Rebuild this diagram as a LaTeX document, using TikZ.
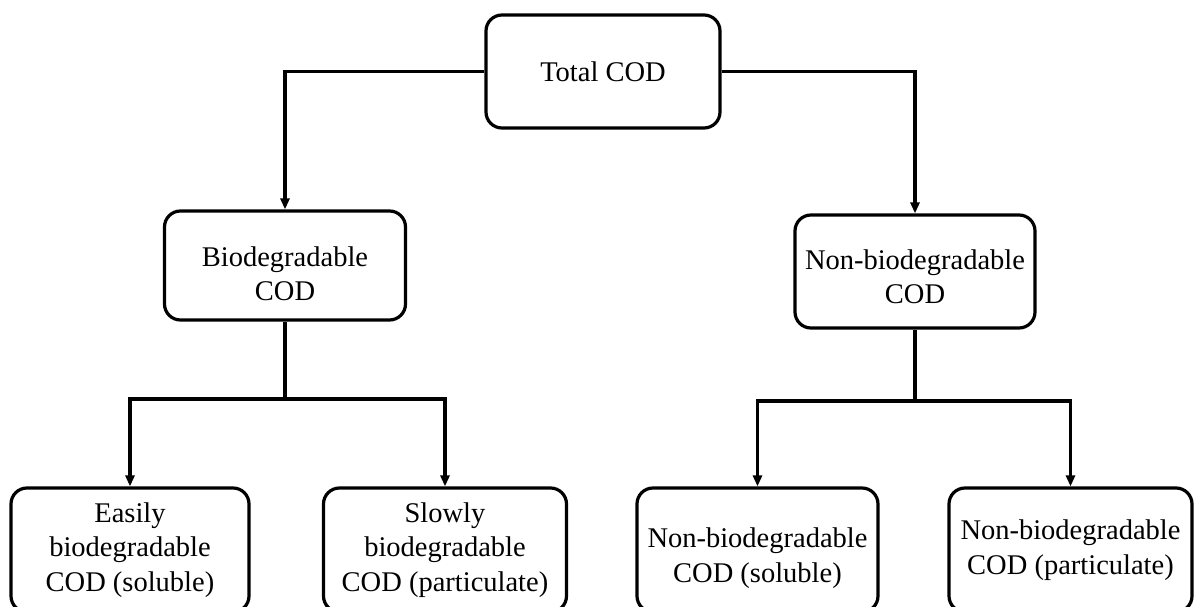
\documentclass[tikz,border=0pt]{standalone}
\usepackage{fontspec}
\setmainfont{Liberation Serif}
\usetikzlibrary{arrows.meta}
\begin{document}
\begin{tikzpicture}[x=1pt,y=-1pt,
 box/.style={draw, line width=3.2pt, rounded corners=16pt, align=center, font=\fontsize{28.5}{34.5}\selectfont, inner sep=0pt},
 conn/.style={line width=3.2pt, -{Triangle[length=11pt,width=9pt]}},
 link/.style={line width=3.2pt}]
\useasboundingbox (0,0) rectangle (1195,607);
\node[box, minimum width=234pt, minimum height=113pt] (T) at (603,71.5) {Total COD};
\node[box, minimum width=241pt, minimum height=109pt] (B) at (285,265.5) {\rule{0pt}{36pt}Biodegradable\\COD};
\node[box, minimum width=240pt, minimum height=113pt] (NB) at (915,271.5) {\rule{0pt}{30pt}Non-biodegradable\\COD};
\node[box, minimum width=238pt, minimum height=124pt] (E) at (130,550) {Easily\\biodegradable\\COD (soluble)};
\node[box, minimum width=243pt, minimum height=124pt] (S) at (445,550) {Slowly\\biodegradable\\COD (particulate)};
\node[box, minimum width=241pt, minimum height=124pt] (NBS) at (757.5,550) {\rule{0pt}{36pt}Non-biodegradable\\COD (soluble)};
\node[box, minimum width=243pt, minimum height=124pt] (NBP) at (1070.5,550) {Non-biodegradable\\COD (particulate)};
\draw[conn] (T.west) -| (B.north);
\draw[conn] (T.east) -| (NB.north);
\coordinate (bj) at (285,399);
\coordinate (nj) at (915,401);
\draw[link] (B.south) -- (bj);
\draw[conn] (bj) -| (E.north);
\draw[conn] (bj) -| (S.north);
\draw[link] (NB.south) -- (nj);
\draw[conn] (nj) -| (NBS.north);
\draw[conn] (nj) -| (NBP.north);
\end{tikzpicture}
\end{document}
